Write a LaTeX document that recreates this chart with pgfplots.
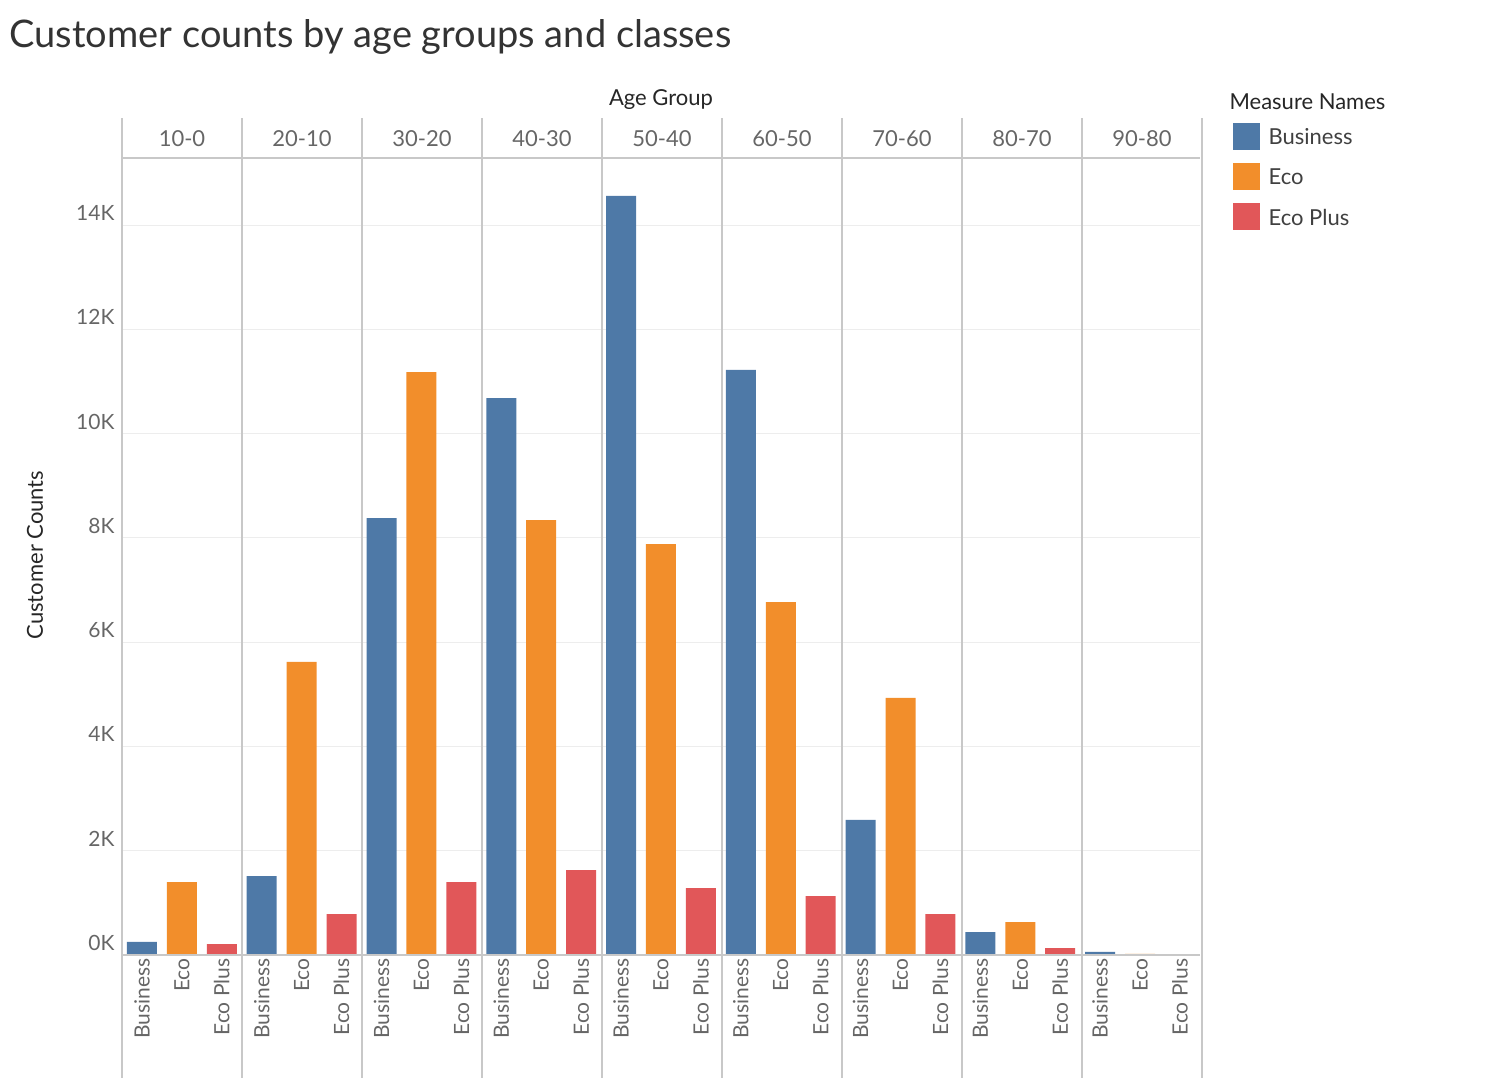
\documentclass[border=0pt]{standalone}
\usepackage{pgfplots}
\pgfplotsset{compat=1.18}
\usepackage{fontspec}
\setmainfont{Lato}
\definecolor{cb}{HTML}{4E79A7}
\definecolor{ce}{HTML}{F28E2B}
\definecolor{cp}{HTML}{E15759}
\definecolor{tg}{HTML}{666666}
\definecolor{ln}{HTML}{C8C8C8}
\begin{document}
\begin{tikzpicture}
\begin{axis}[at={(122pt,-955pt)},anchor=south west,scale only axis,
  width=1078pt,height=797pt,xmin=-0.5,xmax=26.5,ymin=0,ymax=15285,
  axis line style={draw=none},scaled y ticks=false,
  ybar,bar width=30pt,bar shift=0pt,
  ytick={0,2000,4000,6000,8000,10000,12000,14000},
  yticklabels={0K,2K,4K,6K,8K,10K,12K,14K},
  yticklabel style={font=\fontsize{21}{21}\selectfont,text=tg,yshift=12pt,xshift=-4pt},
  ymajorgrids,grid style={draw=black!7,line width=1pt},
  xtick={0,...,26},
  xticklabels={Business,Eco,Eco Plus,Business,Eco,Eco Plus,Business,Eco,Eco Plus,Business,Eco,Eco Plus,Business,Eco,Eco Plus,Business,Eco,Eco Plus,Business,Eco,Eco Plus,Business,Eco,Eco Plus,Business,Eco,Eco Plus},
  xticklabel style={rotate=90,anchor=east,font=\fontsize{21}{21}\selectfont,text=tg},
  major tick length=0pt,clip=false]
\addplot[fill=cb,draw=none] coordinates {(0,250)(3,1515)(6,8380)(9,10680)(12,14560)(15,11220)(18,2590)(21,440)(24,58)};
\addplot[fill=ce,draw=none] coordinates {(1,1400)(4,5620)(7,11180)(10,8340)(13,7880)(16,6770)(19,4930)(22,633)(25,20)};
\addplot[fill=cp,draw=none] coordinates {(2,210)(5,786)(8,1400)(11,1630)(14,1285)(17,1130)(20,786)(23,134)(26,0)};
\end{axis}
\begin{scope}[x=1pt,y=1pt]
\path (0,0) rectangle (1506,-1078);
\draw[ln,line width=1.2pt] (122,-158) -- (1200,-158);
\draw[ln,line width=1.2pt] (122,-955) -- (1200,-955);
\foreach \i in {0,...,9} {
  \pgfmathsetmacro\xx{122+120*\i}
  \draw[ln,line width=1.2pt] (\xx,-118) -- (\xx,-1078);
}
\foreach \n [count=\i from 0] in {10-0,20-10,30-20,40-30,50-40,60-50,70-60,80-70,90-80} {
  \pgfmathsetmacro\xx{182+120*\i}
  \node[text=tg,font=\fontsize{22}{22}\selectfont] at (\xx,-139) {\n};
}
\node[anchor=west,text=black!80,font=\fontsize{38}{38}\selectfont] at (6,-37) {Customer counts by age groups and classes};
\node[text=black!85,font=\fontsize{22}{22}\selectfont] at (661,-100) {Age Group};
\node[rotate=90,text=black!85,font=\fontsize{22}{22}\selectfont] at (35,-555) {Customer Counts};
\node[anchor=west,text=black!85,font=\fontsize{22}{22}\selectfont] at (1226,-102) {Measure Names};
\foreach \c/\t [count=\i from 0] in {cb/Business,ce/Eco,cp/Eco Plus} {
  \fill[\c] (1233,-123-40*\i) rectangle (1260,-150-40*\i);
  \node[anchor=west,text=black!75,font=\fontsize{22}{22}\selectfont] at (1265,-137-40*\i) {\t};
}
\end{scope}
\end{tikzpicture}
\end{document}
